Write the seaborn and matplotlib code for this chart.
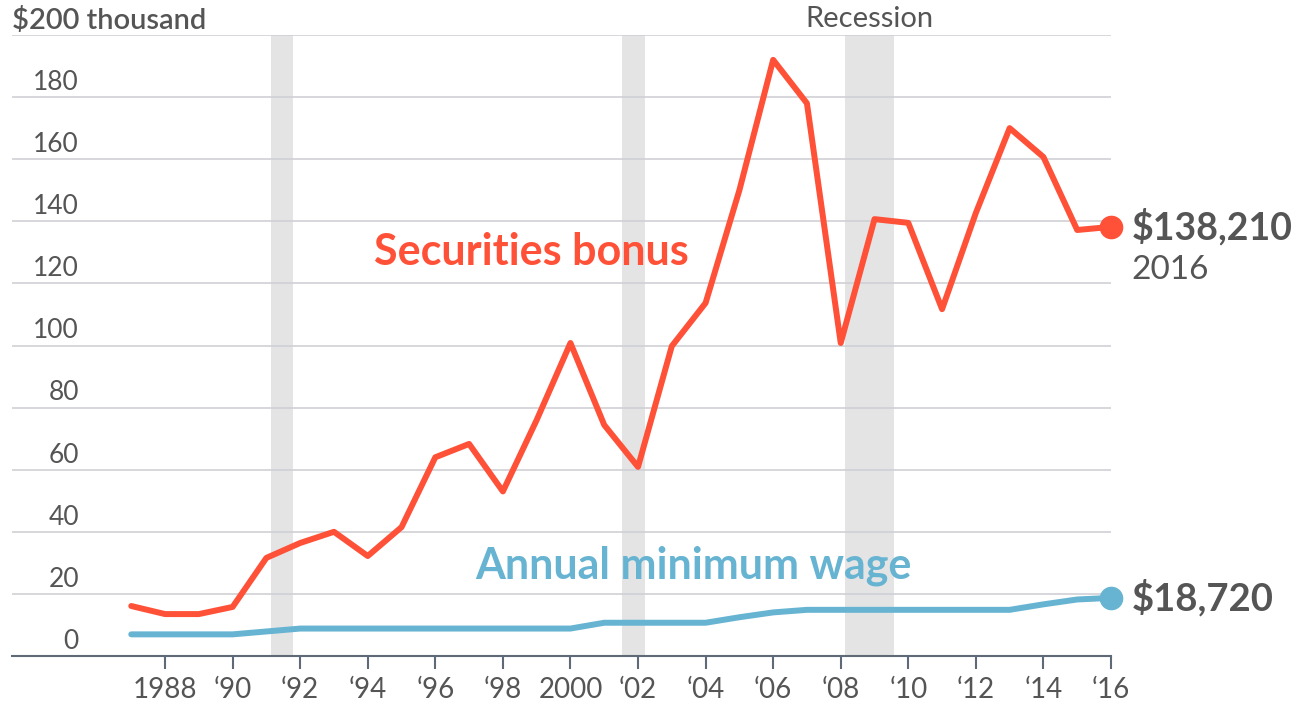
import matplotlib
matplotlib.use("Agg")
import matplotlib.pyplot as plt
import matplotlib.transforms as mtransforms
import seaborn as sns
import pandas as pd

years = list(range(1987, 2017))
bonus = [16.1, 13.5, 13.5, 15.8, 31.6, 36.4, 40.0, 32.2, 41.5, 64.0,
         68.3, 53.0, 76.0, 100.8, 74.4, 60.9, 99.8, 113.7, 150.0, 192.0,
         178.0, 100.8, 140.7, 139.5, 111.7, 142.7, 170.0, 160.7, 137.2, 138.21]
min_wage = [6.97, 6.97, 6.97, 6.97, 7.9, 8.84, 8.84, 8.84, 8.84, 8.84,
            8.84, 8.84, 8.84, 8.84, 10.71, 10.71, 10.71, 10.71, 12.48, 14.04,
            14.87, 14.87, 14.87, 14.87, 14.87, 14.87, 14.87, 16.64, 18.2, 18.72]
recessions = [(1991.14, 1991.79), (2001.52, 2002.2), (2008.12, 2009.57)]
yticks = [0, 20, 40, 60, 80, 100, 120, 140, 160, 180]
xticks = list(range(1988, 2017, 2))
xticklabels = ["1988", "\u201890", "\u201892", "\u201894", "\u201896", "\u201898", "2000",
               "\u201802", "\u201804", "\u201806", "\u201808", "\u201810", "\u201812",
               "\u201814", "\u201816"]

RED = "#ff5138"
BLUE = "#67b4d2"
TXT = "#555555"

sns.set_theme(style="white")
plt.rcParams["font.family"] = ["Lato", "DejaVu Sans"]

df = pd.DataFrame({"year": years, "bonus": bonus, "wage": min_wage})

fig = plt.figure(figsize=(13.07, 7.04), dpi=100)
ax = fig.add_axes([12 / 1307, 1 - 656 / 704, (1111 - 12) / 1307, (656 - 35) / 704])

for a, b in recessions:
    ax.axvspan(a, b, color="#e4e4e4", zorder=0, lw=0)

for y in yticks[1:] + [200]:
    ax.axhline(y, color="#cfd0d6", lw=1.2, zorder=1)

sns.lineplot(data=df, x="year", y="bonus", ax=ax, color=RED, lw=4.3, zorder=3)
sns.lineplot(data=df, x="year", y="wage", ax=ax, color=BLUE, lw=4.3, zorder=3)
ax.plot([years[-1]], [bonus[-1]], "o", color=RED, ms=16, zorder=4, clip_on=False)
ax.plot([years[-1]], [min_wage[-1]], "o", color=BLUE, ms=16, zorder=4, clip_on=False)

ax.set_xlim(1983.47, 2016)
ax.set_ylim(0, 200)
ax.set_xlabel("")
ax.set_ylabel("")
for s in ["top", "right", "left"]:
    ax.spines[s].set_visible(False)
ax.spines["bottom"].set_color("#5f6a78")
ax.spines["bottom"].set_linewidth(1.5)
ax.set_xticks(xticks)
ax.set_xticklabels(xticklabels, fontsize=20, color=TXT)
ax.tick_params(axis="x", direction="out", length=9, width=1.5, color="#5f6a78", pad=6, bottom=True)
ax.set_yticks([])

trans = mtransforms.blended_transform_factory(ax.transAxes, ax.transData)
for y in yticks:
    ax.text(67 / 1099, y + 2.3, str(y), transform=trans, fontsize=19, color=TXT,
            ha="right", va="baseline")
ax.text(0, 201.9, "$200 thousand", transform=trans, fontsize=21, color=TXT,
        ha="left", va="baseline", fontweight="semibold")
ax.text(2008.86, 202.6, "Recession", fontsize=21, color=TXT, ha="center", va="baseline")

ax.text(1998.83, 130, "Securities bonus", fontsize=31, color=RED, ha="center",
        va="center", fontweight="bold")
ax.text(2003.65, 29, "Annual minimum wage", fontsize=31, color=BLUE, ha="center",
        va="center", fontweight="bold")

ax.annotate("$138,210", (years[-1], bonus[-1]), xytext=(15, 0), textcoords="offset points",
            fontsize=27, fontweight="bold", color=TXT, ha="left", va="center",
            annotation_clip=False)
ax.annotate("2016", (years[-1], bonus[-1]), xytext=(15, -31), textcoords="offset points",
            fontsize=24, color=TXT, ha="left", va="center", annotation_clip=False)
ax.annotate("$18,720", (years[-1], min_wage[-1]), xytext=(15, 0), textcoords="offset points",
            fontsize=27.5, fontweight="bold", color=TXT, ha="left", va="center",
            annotation_clip=False)

fig.savefig("out.png", dpi=100)
